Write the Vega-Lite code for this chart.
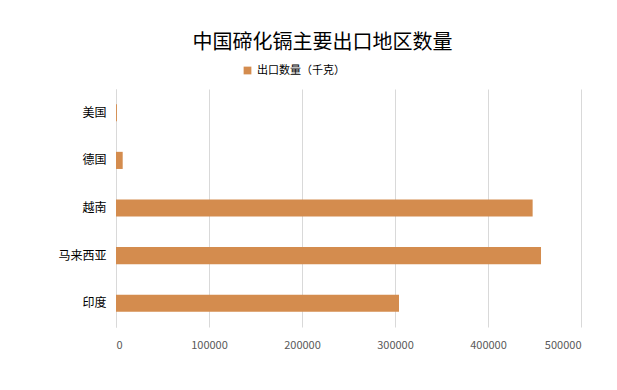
{
  "$schema": "https://vega.github.io/schema/vega-lite/v6.json",
  "width": 465,
  "height": 238,
  "autosize": {"type": "none"},
  "padding": {"left": 116, "top": 89, "right": 36, "bottom": 63},
  "background": "white",
  "title": {
    "text": "中国碲化镉主要出口地区数量",
    "fontSize": 20,
    "fontWeight": "normal",
    "font": "Noto Sans CJK SC",
    "color": "#000000",
    "anchor": "middle",
    "dx": -26,
    "offset": 12
  },
  "data": {
    "values": [
      {"地区": "美国", "出口数量（千克）": 1000},
      {"地区": "德国", "出口数量（千克）": 7200},
      {"地区": "越南", "出口数量（千克）": 448000},
      {"地区": "马来西亚", "出口数量（千克）": 457000},
      {"地区": "印度", "出口数量（千克）": 304300}
    ]
  },
  "transform": [{"fold": ["出口数量（千克）"], "as": ["系列", "值"]}],
  "mark": {"type": "bar"},
  "encoding": {
    "y": {
      "field": "地区",
      "type": "nominal",
      "sort": ["美国", "德国", "越南", "马来西亚", "印度"],
      "scale": {"paddingInner": 0.64, "paddingOuter": 0.32},
      "axis": {
        "title": null,
        "ticks": false,
        "labelFontSize": 12,
        "labelColor": "#000000",
        "labelFont": "Noto Sans CJK SC",
        "labelPadding": 10,
        "domainColor": "#D9D9D9",
        "grid": false
      }
    },
    "x": {
      "field": "值",
      "type": "quantitative",
      "scale": {"domain": [0, 500000], "nice": false},
      "axis": {
        "title": null,
        "values": [0, 100000, 200000, 300000, 400000, 500000],
        "format": "d",
        "ticks": false,
        "domain": false,
        "grid": true,
        "gridColor": "#D9D9D9",
        "labelFontSize": 11,
        "labelColor": "#595959",
        "labelFont": "Noto Sans CJK SC",
        "labelPadding": 12
      }
    },
    "color": {
      "field": "系列",
      "type": "nominal",
      "scale": {"range": ["#D48C4E"]},
      "legend": {
        "title": null,
        "orient": "none",
        "legendX": 126,
        "legendY": -24,
        "symbolType": "square",
        "symbolSize": 60,
        "labelFontSize": 11,
        "labelFont": "Noto Sans CJK SC",
        "labelColor": "#000000"
      }
    }
  },
  "config": {"view": {"stroke": null}}
}
